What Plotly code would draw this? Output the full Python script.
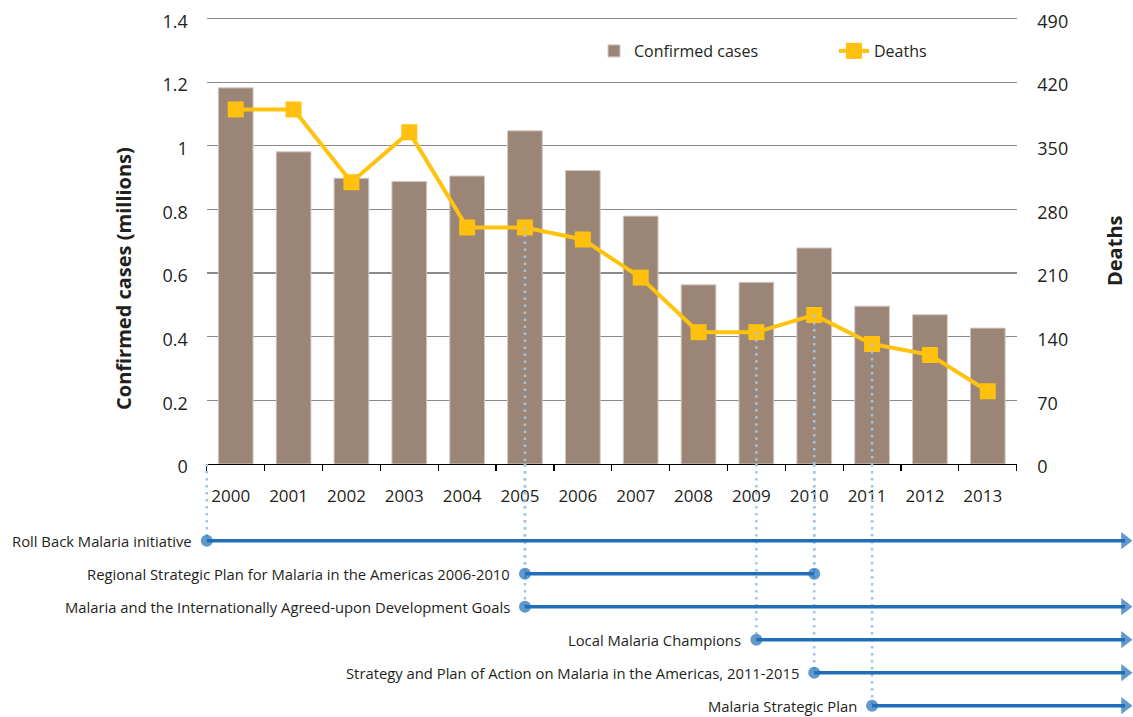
import plotly.graph_objects as go

# ---------------- data ----------------
years = ["2000", "2001", "2002", "2003", "2004", "2005", "2006",
         "2007", "2008", "2009", "2010", "2011", "2012", "2013"]
cases_millions = [1.182, 0.981, 0.898, 0.888, 0.905, 1.047, 0.922,
                  0.779, 0.563, 0.571, 0.679, 0.496, 0.469, 0.427]
deaths = [390, 390, 310, 365, 260, 260, 247, 205, 145, 145, 164, 132, 120, 80]

cases_ticks = [0, 0.2, 0.4, 0.6, 0.8, 1.0, 1.2, 1.4]
deaths_ticks = [0, 70, 140, 210, 280, 350, 420, 490]

events = [
    "Roll Back Malaria initiative",
    "Regional Strategic Plan for Malaria in the Americas 2006-2010",
    "Malaria and the Internationally Agreed-upon Development Goals",
    "Local Malaria Champions",
    "Strategy and Plan of Action on Malaria in the Americas, 2011-2015",
    "Malaria Strategic Plan",
]
# start / end on the year scale (1999.5 = very beginning of 2000); None = ongoing
event_start = [1999.5, 2005, 2005, 2009, 2010, 2011]
event_end = [None, 2010, None, None, None, None]

# ---------------- layout constants (pixels) ----------------
W, H = 1133, 717
PL, PR, PT, PB = 206.8, 1016.7, 18.5, 464.0
EXTRA = 3.0                        # keep the top grid line inside the plot area
TOP_SCALE = (PB - PT + EXTRA) / (PB - PT)
step = (PR - PL) / len(years)
first_year = int(years[0]) - 0.5
x2_min = first_year - PL / step
x2_max = first_year + (W - PL) / step
arrow_tip = first_year + (W - 8 - PL) / step
ROW0, ROWSTEP = 540.7, 33.0
y3_top = -(ROW0 - PB) / ROWSTEP
y3_bot = (H - ROW0) / ROWSTEP


def fx(sx):
    return sx / W


def fy(sy):
    return 1 - sy / H


BAR = "#9A8577"
GOLD = "#FFC20E"
BLUE = "#1F6EB7"
DOT = "#9FC5E6"
TXT = "#231F20"
FONT = "Open Sans"

fig = go.Figure()

fig.add_trace(go.Bar(
    x=years, y=cases_millions, name="Confirmed cases",
    marker=dict(color=BAR, line=dict(color="#d3c8c1", width=1)),
    width=0.6, xaxis="x", yaxis="y",
))
fig.add_trace(go.Scatter(
    x=years, y=deaths, name="Deaths", mode="lines+markers",
    line=dict(color=GOLD, width=4),
    marker=dict(symbol="square", size=16, color="#FFC10E"),
    xaxis="x", yaxis="y2",
))

# dotted guide lines inside the chart (from the deaths marker down to the axis)
marker_years = sorted({int(v) for v in event_start + event_end
                       if v is not None and float(v).is_integer()})
for yr in marker_years:
    d = deaths[years.index(str(yr))]
    fig.add_trace(go.Scatter(
        x=[str(yr), str(yr)], y=[d, 0], mode="lines",
        line=dict(color=DOT, width=2.5, dash="2.5px,4.5px"),
        showlegend=False, hoverinfo="skip", xaxis="x", yaxis="y2",
    ))

# dotted guide lines in the timeline part
for i, (s, e) in enumerate(zip(event_start, event_end)):
    for v in [s] + ([e] if e is not None else []):
        fig.add_trace(go.Scatter(
            x=[v, v], y=[y3_top, i], mode="lines",
            line=dict(color=DOT, width=2.5, dash="2.5px,4.5px"),
            showlegend=False, hoverinfo="skip", xaxis="x2", yaxis="y3",
        ))

# timeline bars
for i, (s, e) in enumerate(zip(event_start, event_end)):
    end = e if e is not None else arrow_tip
    fig.add_trace(go.Scatter(
        x=[s, end], y=[i, i], mode="lines",
        line=dict(color=BLUE, width=3.5),
        showlegend=False, hoverinfo="skip", xaxis="x2", yaxis="y3",
    ))
    xs = [s] + ([e] if e is not None else [arrow_tip])
    syms = ["circle"] + (["circle"] if e is not None else ["triangle-right"])
    sizes = [12] + ([12] if e is not None else [15])
    fig.add_trace(go.Scatter(
        x=xs, y=[i, i], mode="markers", cliponaxis=False,
        marker=dict(color=BLUE, symbol=syms, size=sizes, line=dict(width=0)),
        showlegend=False, hoverinfo="skip", xaxis="x2", yaxis="y3",
    ))

annotations = []
for i, (name, s) in enumerate(zip(events, event_start)):
    annotations.append(dict(
        x=s, y=i, xref="x2", yref="y3", text=name, showarrow=False,
        xanchor="right", yanchor="middle", xshift=-13,
        font=dict(family=FONT, size=14.8, color=TXT),
    ))
annotations.append(dict(
    x=fx(123), y=fy(279), xref="paper", yref="paper",
    text="<b>Confirmed cases (millions)</b>", textangle=-90, showarrow=False,
    font=dict(family=FONT, size=20, color=TXT), xanchor="center", yanchor="middle",
))
annotations.append(dict(
    x=fx(1115), y=fy(251), xref="paper", yref="paper",
    text="<b>Deaths</b>", textangle=-90, showarrow=False,
    font=dict(family=FONT, size=20, color=TXT), xanchor="center", yanchor="middle",
))

fig.update_layout(
    width=W, height=H,
    margin=dict(l=0, r=0, t=0, b=0, autoexpand=False),
    paper_bgcolor="white", plot_bgcolor="rgba(0,0,0,0)",
    font=dict(family=FONT, color=TXT),
    barmode="overlay",
    showlegend=True,
    hovermode=False,
    legend=dict(
        orientation="h", x=fx(594), y=fy(51), xanchor="left", yanchor="middle",
        font=dict(family=FONT, size=16, color=TXT),
        bgcolor="rgba(0,0,0,0)", entrywidth=195, entrywidthmode="pixels",
    ),
    xaxis=dict(
        type="category", domain=[fx(PL), fx(PR)], range=[-0.5, len(years) - 0.5],
        anchor="y", showline=True, linecolor="#000", linewidth=1.2,
        ticks="outside", tickson="boundaries", ticklen=6, tickcolor="#000", tickwidth=1.2,
        tickfont=dict(family=FONT, size=17, color=TXT),
        showgrid=False, zeroline=False, ticklabelshift=-5, ticklabelstandoff=16,
        automargin=False, fixedrange=True,
    ),
    yaxis=dict(
        domain=[fy(PB), fy(PT - EXTRA)], range=[0, 1.4 * TOP_SCALE], anchor="x",
        tickvals=cases_ticks, ticktext=[f"{v:g}" for v in cases_ticks],
        showgrid=True, gridcolor="#8a8a8a", gridwidth=1.2,
        zeroline=False, showline=False, ticks="",
        tickfont=dict(family=FONT, size=18, color=TXT), ticklabelstandoff=18,
        ticklabelshift=3, ticklabeloverflow="allow", automargin=False, fixedrange=True,
    ),
    yaxis2=dict(
        overlaying="y", side="right", anchor="x", range=[0, 490 * TOP_SCALE],
        tickvals=deaths_ticks, showgrid=False, zeroline=False, showline=False,
        ticks="outside", ticklen=16, tickcolor="rgba(0,0,0,0)",
        tickfont=dict(family=FONT, size=18, color=TXT), ticklabelshift=3,
        ticklabeloverflow="allow", automargin=False, fixedrange=True,
    ),
    # darker grid lines for the upper part of the chart
    yaxis4=dict(
        overlaying="y", anchor="x", range=[0, 1.4 * TOP_SCALE],
        tickvals=cases_ticks[3:], showticklabels=False, ticks="",
        showgrid=True, gridcolor="#1a1a1a", gridwidth=1.2,
        zeroline=False, showline=False, automargin=False, fixedrange=True,
    ),
    xaxis2=dict(domain=[0, 1], range=[x2_min, x2_max], anchor="y3", visible=False,
                automargin=False, fixedrange=True),
    yaxis3=dict(domain=[0, fy(PB)], range=[y3_bot, y3_top], anchor="x2",
                visible=False, automargin=False, fixedrange=True),
    annotations=annotations,
)

fig.write_html(
    "out.html",
    config={"displayModeBar": False, "staticPlot": True},
    post_script="document.body.style.margin='0';document.body.style.overflow='hidden';",
)
